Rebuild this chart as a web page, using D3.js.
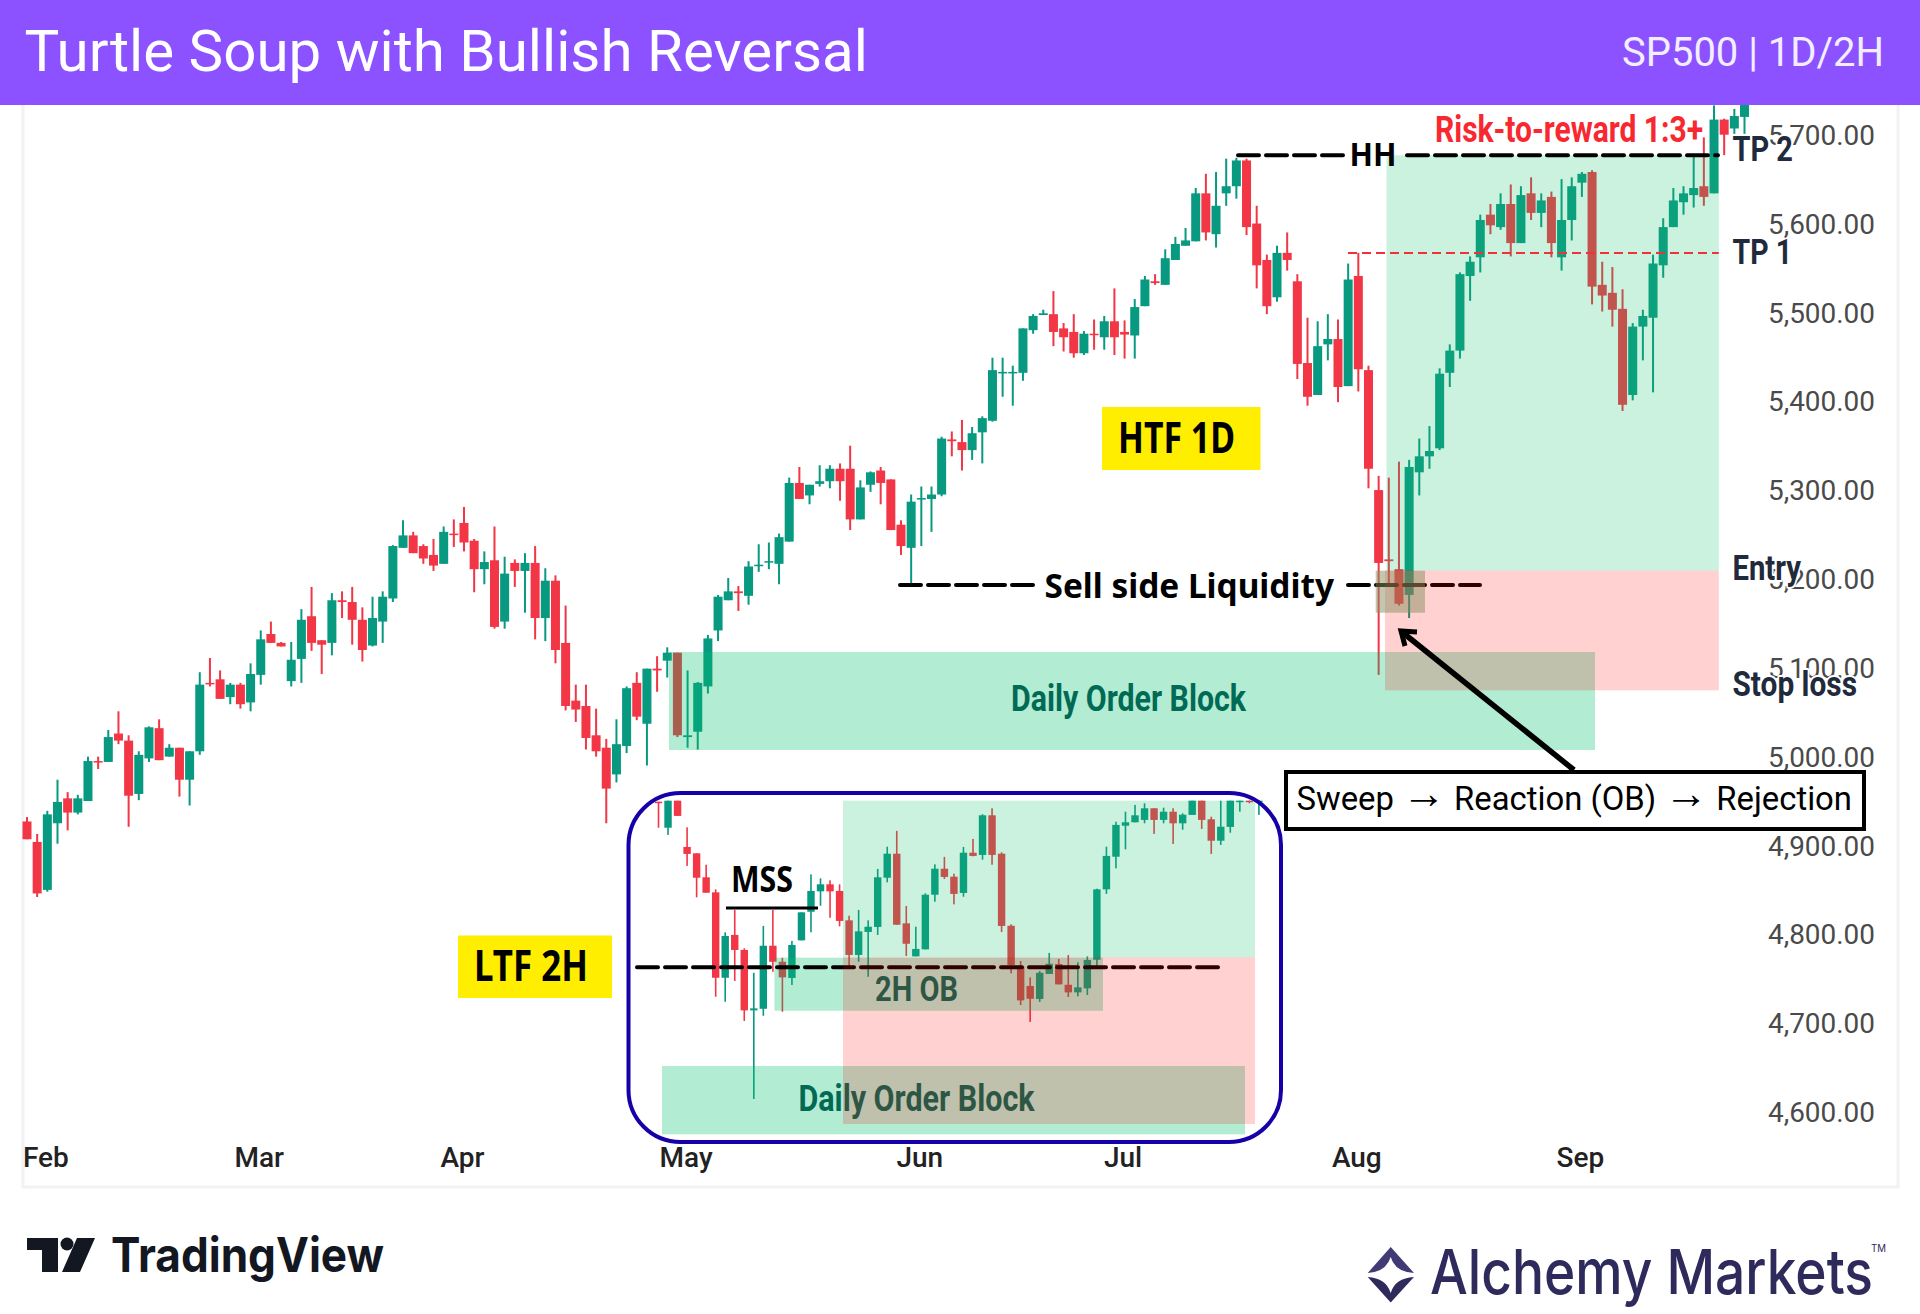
<!DOCTYPE html>
<html>
<head>
  <meta charset="utf-8">
  <title>Turtle Soup with Bullish Reversal</title>
  <script src="https://d3js.org/d3.v7.min.js"></script>
  <style>
    html, body { margin: 0; padding: 0; background: #fff; }
    svg { display: block; }
  </style>
</head>
<body>
  <div id="chart"></div>

  <script>
    // Daily candles
    var dailyOpen = [
      4927,4904,4850,4925,4953,4937,4950,4995,4994,5026,
      5018,4958,4998,5032,5000,5010,4974,5006,5083,5087,
      5067,5081,5061,5092,5138,5128,5085,5110,5158,5131,
      5128,5176,5174,5154,5125,5152,5178,5235,5249,5237,
      5227,5217,5251,5263,5243,5211,5221,5152,5218,5209,
      5218,5156,5198,5128,5063,5057,5024,5010,4980,5012,
      5083,5037,5099,5108,5117,5022,5028,5079,5142,5176,
      5186,5181,5215,5219,5217,5242,5308,5294,5307,5310,
      5324,5324,5267,5306,5322,5312,5261,5235,5290,5290,
      5295,5357,5354,5345,5365,5378,5432,5432,5432,5480,
      5497,5498,5482,5478,5454,5476,5472,5490,5478,5474,
      5507,5535,5531,5559,5575,5580,5634,5588,5634,5642,
      5671,5600,5559,5517,5567,5535,5443,5407,5464,5470,
      5417,5541,5435,5300,5222,5211,5182,5320,5338,5347,
      5432,5457,5541,5562,5610,5596,5622,5578,5634,5612,
      5630,5562,5604,5646,5658,5531,5522,5504,5407,5484,
      5494,5553,5596,5624,5632,5642,5634,5717,5707,5720
    ];
    var dailyHigh = [
      4932,4913,4939,4974,4960,4957,5000,5000,5030,5051,
      5024,5006,5034,5042,5014,5010,5006,5095,5111,5097,
      5083,5083,5105,5142,5152,5129,5129,5166,5191,5131,
      5184,5186,5191,5168,5180,5186,5238,5266,5253,5239,
      5245,5259,5267,5281,5245,5231,5259,5225,5222,5229,
      5237,5212,5204,5170,5081,5081,5054,5020,5042,5079,
      5095,5099,5113,5123,5117,5097,5084,5137,5182,5201,
      5192,5220,5239,5241,5251,5314,5326,5306,5328,5328,
      5330,5350,5311,5321,5326,5312,5266,5295,5304,5304,
      5360,5366,5379,5371,5383,5449,5449,5440,5482,5498,
      5503,5524,5488,5498,5479,5492,5496,5527,5491,5515,
      5541,5543,5571,5585,5595,5640,5656,5658,5673,5674,
      5673,5620,5565,5575,5590,5543,5494,5490,5498,5492,
      5555,5567,5440,5316,5314,5332,5334,5358,5372,5437,
      5464,5545,5563,5610,5622,5634,5644,5642,5652,5634,
      5636,5650,5652,5658,5660,5557,5551,5526,5488,5503,
      5565,5606,5640,5642,5675,5697,5733,5718,5729,5743
    ];
    var dailyLow = [
      4907,4842,4848,4902,4917,4935,4950,4986,4994,5014,
      4921,4951,4994,4996,5000,4955,4945,5002,5079,5065,
      5059,5054,5051,5081,5128,5124,5079,5083,5119,5093,
      5114,5156,5126,5107,5124,5128,5174,5235,5229,5217,
      5209,5217,5236,5231,5185,5194,5144,5144,5191,5162,
      5132,5130,5105,5052,5039,5008,5000,4925,4971,5004,
      5041,4990,5073,5089,5022,5010,5008,5071,5130,5176,
      5164,5171,5208,5211,5194,5242,5290,5284,5304,5302,
      5288,5255,5267,5298,5284,5255,5227,5195,5237,5253,
      5293,5338,5322,5334,5330,5377,5405,5395,5423,5476,
      5497,5462,5456,5449,5452,5458,5458,5452,5448,5448,
      5507,5531,5531,5559,5575,5580,5581,5573,5620,5628,
      5587,5527,5498,5512,5547,5425,5395,5407,5446,5399,
      5417,5411,5302,5092,5193,5170,5156,5294,5324,5345,
      5416,5448,5513,5545,5588,5593,5563,5578,5604,5596,
      5562,5547,5581,5630,5509,5501,5484,5389,5401,5446,
      5410,5539,5596,5610,5618,5620,5634,5677,5701,5701
    ];
    var dailyClose = [
      4907,4846,4935,4949,4937,4953,4995,4994,5022,5018,
      4956,5002,5033,4996,5010,4974,5006,5081,5082,5065,
      5081,5059,5093,5132,5128,5124,5109,5154,5128,5126,
      5176,5174,5154,5120,5156,5180,5237,5249,5229,5223,
      5215,5253,5250,5241,5211,5219,5146,5206,5209,5218,
      5156,5198,5120,5057,5053,5021,5006,4964,5014,5077,
      5045,5099,5097,5117,5024,5024,5083,5133,5180,5186,
      5184,5214,5216,5220,5247,5308,5290,5306,5310,5324,
      5310,5267,5303,5320,5308,5255,5237,5287,5291,5295,
      5358,5355,5345,5364,5381,5435,5433,5433,5482,5496,
      5499,5478,5472,5454,5476,5475,5490,5472,5475,5506,
      5537,5533,5561,5577,5581,5634,5590,5620,5642,5671,
      5596,5553,5507,5567,5559,5442,5405,5462,5470,5416,
      5537,5436,5324,5218,5220,5172,5326,5338,5344,5431,
      5457,5543,5557,5604,5598,5622,5578,5632,5612,5626,
      5578,5604,5642,5656,5529,5519,5503,5396,5484,5496,
      5555,5596,5626,5634,5640,5630,5717,5700,5721,5739
    ];

    // 2H candles for the inset, price scale is an estimate since it has no axis
    var insetOpen = [
      5275.8,5262.8,5276.3,5253.2,5250,5238,5230.5,5187.8,5209.2,5201.7,
      5171.5,5172.3,5203.8,5195.8,5187.7,5206.5,5220.8,5231,5234.5,5231.2,
      5216.5,5199.2,5210.7,5213.2,5237.8,5249.8,5215,5198.5,5202,5229.3,
      5242.3,5238.3,5230.2,5250.3,5249.2,5269,5249.8,5213.8,5193.3,5183.7,
      5177.2,5189.7,5194.7,5184.3,5180.5,5182.5,5196.8,5232,5248.3,5263.8,
      5265.5,5266.7,5272.5,5266.7,5270.8,5265,5269.2,5276.3,5267,5256.3,
      5263.2,5275.8,5276.3,5275.8
    ];
    var insetHigh = [
      5275.8,5276.3,5276.3,5263,5250,5244.3,5232,5210.5,5221.7,5202.5,
      5190.3,5213.7,5221.7,5197.8,5206.2,5220.5,5239.5,5237.5,5236.5,5234.5,
      5218.8,5221.7,5216.5,5242.2,5253.3,5261.2,5223.7,5213.3,5230,5244.5,
      5248.2,5239.8,5253.2,5257.2,5269.5,5272.5,5250.5,5214.5,5196.2,5188,
      5191.2,5200.2,5197.2,5199.2,5195.5,5198.5,5232.3,5253.3,5265.8,5270.8,
      5274.2,5275,5272.5,5272.8,5272.5,5270,5276.3,5276.3,5268.3,5276.3,
      5276.3,5276.3,5276.3,5276.3
    ];
    var insetLow = [
      5262.8,5259.2,5268.7,5243.7,5228,5230.3,5178.3,5175.8,5186.2,5166.2,
      5127.2,5168.8,5190.8,5170.8,5184.2,5206.5,5210.5,5223.8,5217.8,5213.5,
      5193,5195.8,5188.3,5209.2,5235.5,5214.3,5198.7,5198.5,5202,5225.8,
      5237.2,5224.5,5228.3,5248.5,5246.8,5244.3,5210.7,5190,5174.2,5165.7,
      5175.7,5189.7,5184.5,5178.2,5178.5,5179.2,5193.3,5229.7,5242.5,5252,
      5265.5,5265,5259.7,5265,5254.7,5261.8,5269.2,5262.2,5249.7,5254.2,
      5260.3,5270.8,5275,5269.2
    ];
    var insetClose = [
      5275.4,5276.3,5268.7,5249.7,5237.8,5230.3,5187.8,5208.7,5201.7,5171.5,
      5172.5,5203.8,5195.8,5188,5204.2,5220.5,5231.2,5234.5,5231,5216.2,
      5199.2,5211,5213.3,5238,5249.8,5214.3,5204.8,5202.2,5229.3,5242.3,
      5238.2,5229.7,5250.3,5248.7,5269,5249.2,5213.7,5194.2,5176.5,5177.3,
      5190.3,5194.8,5184.5,5180.5,5183,5196.7,5232,5248.7,5264.2,5265.5,
      5269,5272.5,5266.7,5270.8,5265,5269.3,5276.3,5266.7,5256.3,5263.3,
      5276.3,5276.3,5275.8,5276.3
    ];

    var priceTicks = [5700,5600,5500,5400,5300,5200,5100,5000,4900,4800,4700,4600];
    var monthNames = ["Feb","Mar","Apr","May","Jun","Jul","Aug","Sep"];
    var monthStarts = [2,23,43,65,88,108,131,153];

    var up = "#089981", down = "#F23645";
    var W = 1920, H = 1314;

    var svg = d3.select("#chart").append("svg").attr("width", W).attr("height", H);
    svg.append("rect").attr("width", W).attr("height", H).attr("fill", "#fff");

    // panel border
    svg.append("rect").attr("x", 23).attr("y", 90).attr("width", 1875).attr("height", 1097)
      .attr("fill", "none").attr("stroke", "#F1F2F4").attr("stroke-width", 3);

    // scales
    var x = d3.scaleLinear().domain([0, 169]).range([27, 1744.5]);
    var y = d3.scaleLinear().domain([4600, 5700]).range([1112, 134.7]);
    var xInset = d3.scaleLinear().domain([0, 63]).range([658.5, 1258.9]);
    var yInset = d3.scaleLinear().domain([5127.2, 5276.3]).range([1099, 800.7]);

    // axes
    var yAxis = d3.axisLeft(y).tickValues(priceTicks).tickSize(0).tickPadding(0)
      .tickFormat(d3.format(",.2f"));
    var gy = svg.append("g").attr("transform", "translate(1875,1)").call(yAxis);
    gy.select(".domain").remove();
    gy.selectAll("text").attr("font-family", "Roboto").attr("font-size", 27)
      .attr("font-weight", 400).attr("fill", "#4A4A4A")
      .attr("textLength", 107).attr("lengthAdjust", "spacingAndGlyphs");

    var xAxis = d3.axisBottom(x).tickValues(monthStarts).tickSize(0).tickPadding(0)
      .tickFormat(function(d, i) { return monthNames[i]; });
    var gx = svg.append("g").attr("transform", "translate(-2,1146)").call(xAxis);
    gx.select(".domain").remove();
    gx.selectAll("text").attr("font-family", "Roboto").attr("font-size", 28)
      .attr("font-weight", 500).attr("fill", "#222").attr("dy", "0.75em");

    function candles(parent, xs, ys, o, h, l, c, bodyW, wickW) {
      var idx = d3.range(o.length);
      var g = parent.append("g");
      g.selectAll(".wick").data(idx).enter().append("rect")
        .attr("x", function(i) { return xs(i) - wickW / 2; })
        .attr("y", function(i) { return ys(h[i]); })
        .attr("width", wickW)
        .attr("height", function(i) { return ys(l[i]) - ys(h[i]); })
        .attr("fill", function(i) { return c[i] >= o[i] ? up : down; });
      g.selectAll(".body").data(idx).enter().append("rect")
        .attr("x", function(i) { return xs(i) - bodyW / 2; })
        .attr("y", function(i) { return ys(Math.max(o[i], c[i])); })
        .attr("width", bodyW)
        .attr("height", function(i) { return Math.max(1.5, Math.abs(ys(o[i]) - ys(c[i]))); })
        .attr("fill", function(i) { return c[i] >= o[i] ? up : down; });
    }

    function zone(x0, y0, x1, y1, fill, alpha) {
      svg.append("rect").attr("x", x0).attr("y", y0).attr("width", x1 - x0).attr("height", y1 - y0)
        .attr("fill", fill).attr("fill-opacity", alpha);
    }

    function dashed(x0, x1, yy, color, w, dash, cap) {
      svg.append("line").attr("x1", x0).attr("x2", x1).attr("y1", yy).attr("y2", yy)
        .attr("stroke", color).attr("stroke-width", w).attr("stroke-dasharray", dash)
        .attr("stroke-linecap", cap || "round");
    }

    // text squeezed to the width measured on the picture
    function label(str, x0, x1, base, size, opts) {
      opts = opts || {};
      var t = svg.append("text").text(str).attr("x", x0).attr("y", base)
        .attr("font-family", opts.font || "Roboto")
        .attr("font-size", size)
        .attr("font-weight", opts.weight || 700)
        .attr("fill", opts.fill || "#000")
        .attr("textLength", x1 - x0)
        .attr("lengthAdjust", "spacingAndGlyphs");
      if (opts.halo) {
        t.attr("stroke", "#fff").attr("stroke-width", opts.halo).attr("paint-order", "stroke")
          .attr("stroke-linejoin", "round");
      }
      return t;
    }

    var greenZone = "#12BF6D", pinkZone = "#FF0000", obZone = "#00BF69";

    // main chart
    candles(svg, x, y, dailyOpen, dailyHigh, dailyLow, dailyClose, 9, 2);

    // daily order block and its label
    zone(669, 652, 1595, 750, obZone, 0.3);
    label("Daily Order Block", 1011, 1246, 710.5, 36, { fill: "#006A55" });

    // sell side liquidity
    dashed(900, 1034, 585, "#000", 4, "21 7");
    dashed(1348, 1480, 585, "#000", 4, "21 7");
    label("Sell side Liquidity", 1044.5, 1334, 598, 34, { font: "Noto Sans" });

    // position tool, laid over the candles
    zone(1386.5, 155.3, 1718.8, 570.4, greenZone, 0.22);
    zone(1385, 570.4, 1718.8, 690.3, pinkZone, 0.18);
    zone(1375.7, 570.7, 1425, 612.7, "#8A9060", 0.5);

    dashed(1238, 1344, 155.3, "#000", 4, "21 7");
    dashed(1407, 1718, 155.3, "#000", 4, "21 7");
    label("HH", 1349.5, 1396.5, 166, 33, { font: "Noto Sans" });
    dashed(1348, 1718.8, 253, "#F23037", 2, "9 5", "butt");

    label("Risk-to-reward 1:3+", 1435, 1703, 142, 36, { fill: "#F7282F" });
    label("TP 2", 1732.5, 1793, 161, 35, { fill: "#1F2A3C", halo: 4 });
    label("TP 1", 1732.5, 1792, 264, 35, { fill: "#1F2A3C" });
    label("Entry", 1732.5, 1801, 580, 35, { fill: "#1F2A3C", halo: 4 });
    label("Stop loss", 1732.5, 1857, 696, 35, { fill: "#1F2A3C", halo: 4 });

    // arrow from the callout up to the sweep
    svg.append("path").attr("d", "M1574,770 L1402,632")
      .attr("stroke", "#000").attr("stroke-width", 5.5).attr("fill", "none");
    svg.append("path").attr("d", "M1417,632 L1401,631 L1405,646")
      .attr("stroke", "#000").attr("stroke-width", 5).attr("fill", "none")
      .attr("stroke-linejoin", "miter");

    // callout, the arrows are set larger so they come out as long as in the picture
    svg.append("rect").attr("x", 1286).attr("y", 772).attr("width", 578).attr("height", 57)
      .attr("fill", "#fff").attr("stroke", "#000").attr("stroke-width", 4);
    var callout = label("", 1296.5, 1852, 809.5, 33, { weight: 400 });
    ["Sweep ", "\u2192", " Reaction (OB) ", "\u2192", " Rejection"].forEach(function(part) {
      var span = callout.append("tspan").text(part);
      if (part === "\u2192") {
        span.attr("font-family", "Liberation Sans").attr("font-size", 44).attr("dy", -2);
      } else {
        span.attr("dy", part === "Sweep " ? 0 : 2);
      }
    });

    // HTF / LTF tags
    zone(1102, 407, 1260.5, 470, "#FFEE00", 1);
    label("HTF 1D", 1118, 1235, 453, 43, { font: "Noto Sans" });
    zone(458, 935.5, 612, 998, "#FFEE00", 1);
    label("LTF 2H", 474, 588, 981, 43, { font: "Noto Sans" });

    // inset 2H chart
    candles(svg, xInset, yInset, insetOpen, insetHigh, insetLow, insetClose, 7.4, 1.6);
    zone(774.4, 957.7, 1103, 1010.7, obZone, 0.3);
    zone(662, 1066, 1245, 1134.3, obZone, 0.3);
    label("2H OB", 875, 958, 1001, 35, { fill: "#006A55" });
    label("Daily Order Block", 798.5, 1034.5, 1111, 36, { fill: "#006A55" });
    dashed(637, 1219, 967.3, "#000", 4, "21 7");
    zone(843, 800.7, 1255, 957.3, greenZone, 0.22);
    zone(843, 957.3, 1255, 1124, pinkZone, 0.18);

    label("MSS", 731, 793, 891.5, 35, { font: "Noto Sans" });
    svg.append("line").attr("x1", 726).attr("x2", 818).attr("y1", 908).attr("y2", 908)
      .attr("stroke", "#000").attr("stroke-width", 3);

    svg.append("rect").attr("x", 628.5).attr("y", 793).attr("width", 652.5).attr("height", 349)
      .attr("rx", 52).attr("ry", 52).attr("fill", "none")
      .attr("stroke", "#1600A8").attr("stroke-width", 4);

    // header band
    zone(0, 0, W, 105, "#8C52FF", 1);
    label("Turtle Soup with Bullish Reversal", 24.5, 868, 71, 58, { fill: "#fff", weight: 400 });
    label("SP500 | 1D/2H", 1622, 1884, 66, 40, { fill: "#F3EEFF", weight: 400 });

    // TradingView mark
    svg.append("path").attr("fill", "#131722")
      .attr("d", "M27,1238 H58 V1272 H42 V1250 H27 Z M95,1238 L80,1272 H62 L77,1238 Z");
    svg.append("circle").attr("cx", 67).attr("cy", 1244).attr("r", 6.5).attr("fill", "#131722");
    label("TradingView", 111, 384, 1272, 48, { font: "Inter", weight: 700, fill: "#131722" });

    // Alchemy Markets mark
    svg.append("path").attr("fill", "#403A75")
      .attr("d", "M1390.7,1247 L1414,1273 Q1395,1272 1390.7,1257 Q1386,1272 1367.7,1273 Z");
    svg.append("path").attr("fill", "#2E2A5C")
      .attr("d", "M1367.7,1277 Q1386,1278 1390.7,1293 Q1395,1278 1414,1277 L1390.7,1302.5 Z");
    label("Alchemy Markets", 1430, 1873, 1294, 62, { font: "Inter", weight: 500, fill: "#2E2A5C" });
    label("TM", 1871, 1886, 1252, 10, { font: "Inter", weight: 400, fill: "#2E2A5C" });
  </script>
</body>
</html>
